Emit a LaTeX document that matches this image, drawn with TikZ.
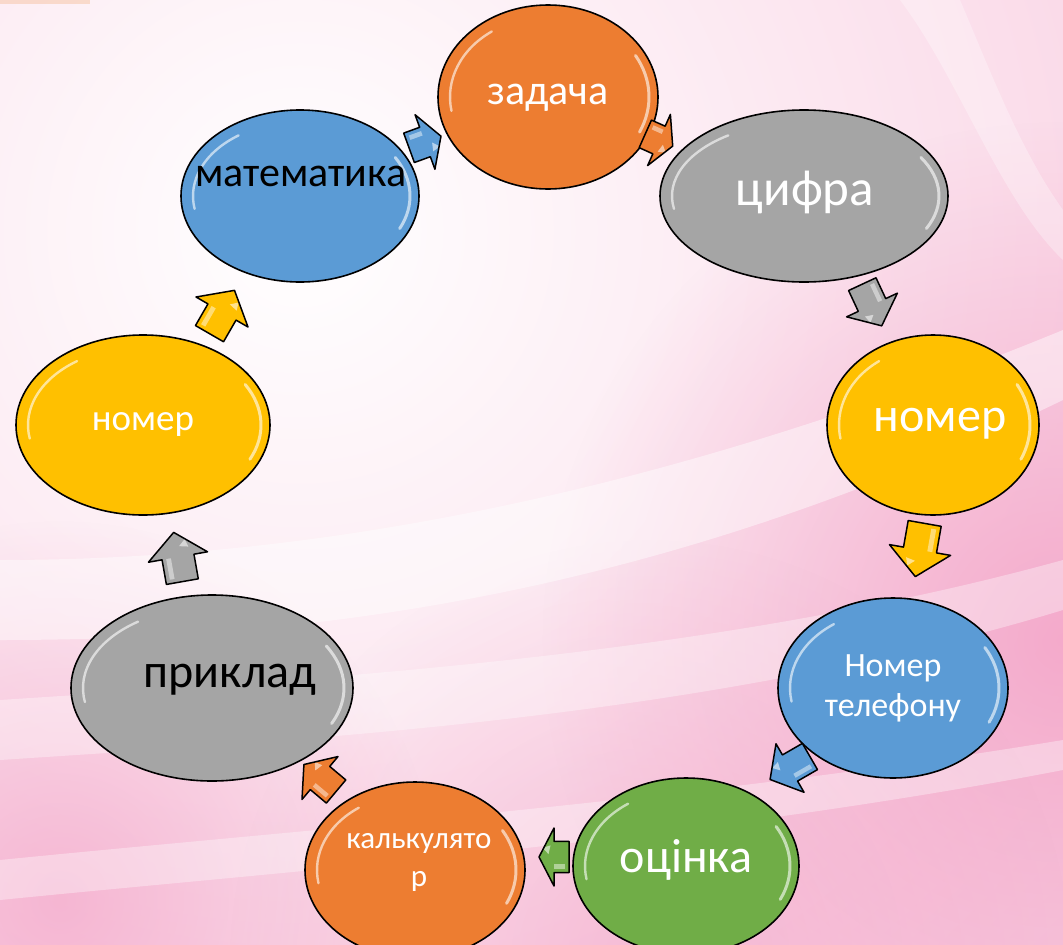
\documentclass[tikz,border=0pt]{standalone}
\usepackage{fontspec}
\setmainfont{Carlito}
\usetikzlibrary{calc,shapes.geometric,fadings}
\tikzfading[name=softglow, inner color=transparent!0, outer color=transparent!100]
\definecolor{cOrange}{HTML}{ED7D31}
\definecolor{cGray}{HTML}{A5A5A5}
\definecolor{cYellow}{HTML}{FFC000}
\definecolor{cBlue}{HTML}{5B9BD5}
\definecolor{cGreen}{HTML}{70AD47}
\definecolor{bgPink}{HTML}{F29BC2}
\definecolor{bgPinkLight}{HTML}{FBE3EE}
\tikzset{
  ell/.style={ellipse, draw=black, line width=1.6pt, inner sep=0pt},
  txt/.style={inner sep=0pt, align=center, text=white},
  glint/.style={white, line width=2.4pt, opacity=0.6, line cap=round},
  barrow/.style={draw=black, line width=1.5pt, line join=round},
}
% \blockarrow{name}{x}{y}{page angle}{length}{width}{colour}
\newcommand{\blockarrow}[7]{%
  \begin{scope}[shift={(#2,#3)}, rotate=#4]
    \fill[#7] (-#5/2,-0.27*#6) -- (0,-0.27*#6) -- (0,-#6/2) -- (#5/2,0) -- (0,#6/2) -- (0,0.27*#6) -- (-#5/2,0.27*#6) -- cycle;
    \fill[white, opacity=0.45] (-#5/2+4,-0.2*#6) -- (0,-0.2*#6) -- (0,-0.12*#6) -- (-#5/2+4,-0.12*#6) -- cycle;
    \fill[white, opacity=0.55] (#5/4-2,0.05*#6) -- (#5/4+4,0.16*#6) -- (#5/4-4,0.2*#6) -- cycle;
    \draw[barrow] (-#5/2,-0.27*#6) -- (0,-0.27*#6) -- (0,-#6/2) -- (#5/2,0) -- (0,#6/2) -- (0,0.27*#6) -- (-#5/2,0.27*#6) -- cycle;
    \coordinate (#1) at (0,0);
  \end{scope}}
% \ellglint{x}{y}{rx}{ry}
\newcommand{\ellglint}[4]{%
  \draw[glint] (#1,#2) ++(170:{#3-12} and {#4-12}) arc[start angle=170, end angle=235, x radius={#3-12}, y radius={#4-12}];
  \draw[glint, line width=3pt] (#1,#2) ++(-30:{#3-9} and {#4-9}) arc[start angle=-30, end angle=25, x radius={#3-9}, y radius={#4-9}];}
\begin{document}
\begin{tikzpicture}[x=1pt,y=-1pt]
\useasboundingbox (0,0) rectangle (1063,945);
% background
\begin{scope}
\clip (0,0) rectangle (1063,945);
\shade[inner color=white, outer color=bgPink] (300,230) circle (2200);
\fill[bgPink, opacity=0.75, path fading=softglow] (1063,640) circle (520);
\fill[bgPink, opacity=0.6, path fading=softglow] (60,900) circle (380);
\fill[bgPink, opacity=0.5, path fading=softglow] (650,960) circle (420);
\fill[white, opacity=0.45] (0,560) .. controls (250,560) and (600,520) .. (1063,330) -- (1063,400) .. controls (650,600) and (300,640) .. (0,640) -- cycle;
\fill[white, opacity=0.35] (0,700) .. controls (300,680) and (700,660) .. (1063,560) -- (1063,610) .. controls (700,720) and (300,740) .. (0,760) -- cycle;
\fill[white, opacity=0.35] (0,860) .. controls (300,830) and (700,800) .. (1063,740) -- (1063,770) .. controls (700,840) and (300,870) .. (0,900) -- cycle;
\fill[white, opacity=0.3] (900,0) .. controls (960,80) and (1000,200) .. (1063,260) -- (1063,210) .. controls (1020,150) and (990,70) .. (960,0) -- cycle;
\fill[cOrange!50!white, opacity=0.45] (0,0) rectangle (90,4);
\end{scope}
% ellipses
\node[ell, fill=cOrange, minimum width=220pt, minimum height=184pt] (zad) at (548,97) {};
\node[ell, fill=cGray, minimum width=288pt, minimum height=172pt] (cyf) at (804,196) {};
\node[ell, fill=cYellow, minimum width=212pt, minimum height=180pt] (nomR) at (933,425) {};
\node[ell, fill=cBlue, minimum width=230pt, minimum height=180pt] (tel) at (893,688) {};
\node[ell, fill=cGreen, minimum width=226pt, minimum height=176pt] (oc) at (686,866) {};
\node[ell, fill=cOrange, minimum width=220pt, minimum height=176pt] (kal) at (415,870) {};
\node[ell, fill=cGray, minimum width=282pt, minimum height=186pt] (pryk) at (212,688) {};
\node[ell, fill=cYellow, minimum width=254pt, minimum height=180pt] (nomL) at (143,425) {};
\node[ell, fill=cBlue, minimum width=238pt, minimum height=172pt] (mat) at (300,196) {};
\ellglint{548}{97}{110}{92}
\ellglint{804}{196}{144}{86}
\ellglint{933}{425}{106}{90}
\ellglint{893}{688}{115}{90}
\ellglint{686}{866}{113}{88}
\ellglint{415}{870}{110}{88}
\ellglint{212}{688}{141}{93}
\ellglint{143}{425}{127}{90}
\ellglint{300}{196}{119}{86}
% texts
\node[txt, font=\fontsize{42}{46}\selectfont] (tzad) at (548,98) {задача};
\node[txt, font=\fontsize{51}{56}\selectfont] (tcyf) at (805,192) {цифра};
\node[txt, font=\fontsize{48}{52}\selectfont] (tnomR) at (940,424) {номер};
\node[txt, font=\fontsize{34}{40}\selectfont] (ttel) at (893,688) {Номер\\телефону};
\node[txt, font=\fontsize{48}{52}\selectfont] (toc) at (686,860) {оцінка};
\node[txt, font=\fontsize{31}{38}\selectfont] (tkal) at (419,862) {калькулято\\р};
\node[txt, text=black, font=\fontsize{48}{52}\selectfont] (tpryk) at (230,680) {приклад};
\node[txt, font=\fontsize{37}{40}\selectfont] (tnomL) at (143,424) {номер};
\node[txt, text=black, font=\fontsize{42}{46}\selectfont] (tmat) at (301,176) {математика};
% arrows
\blockarrow{a1}{425}{142}{20}{34}{58}{cBlue}
\blockarrow{a2}{659}{140}{-24}{30}{56}{cOrange}
\blockarrow{a3}{872}{305}{-65}{46}{56}{cGray}
\blockarrow{a4}{920}{550}{-100}{54}{62}{cYellow}
\blockarrow{a5}{790}{768}{-150}{46}{56}{cBlue}
\blockarrow{a6}{554}{857}{180}{30}{58}{cGreen}
\blockarrow{a7}{320}{778}{140}{42}{56}{cOrange}
\blockarrow{a8}{178}{557}{100}{50}{60}{cGray}
\blockarrow{a9}{222}{312}{60}{50}{60}{cYellow}
\end{tikzpicture}
\end{document}
